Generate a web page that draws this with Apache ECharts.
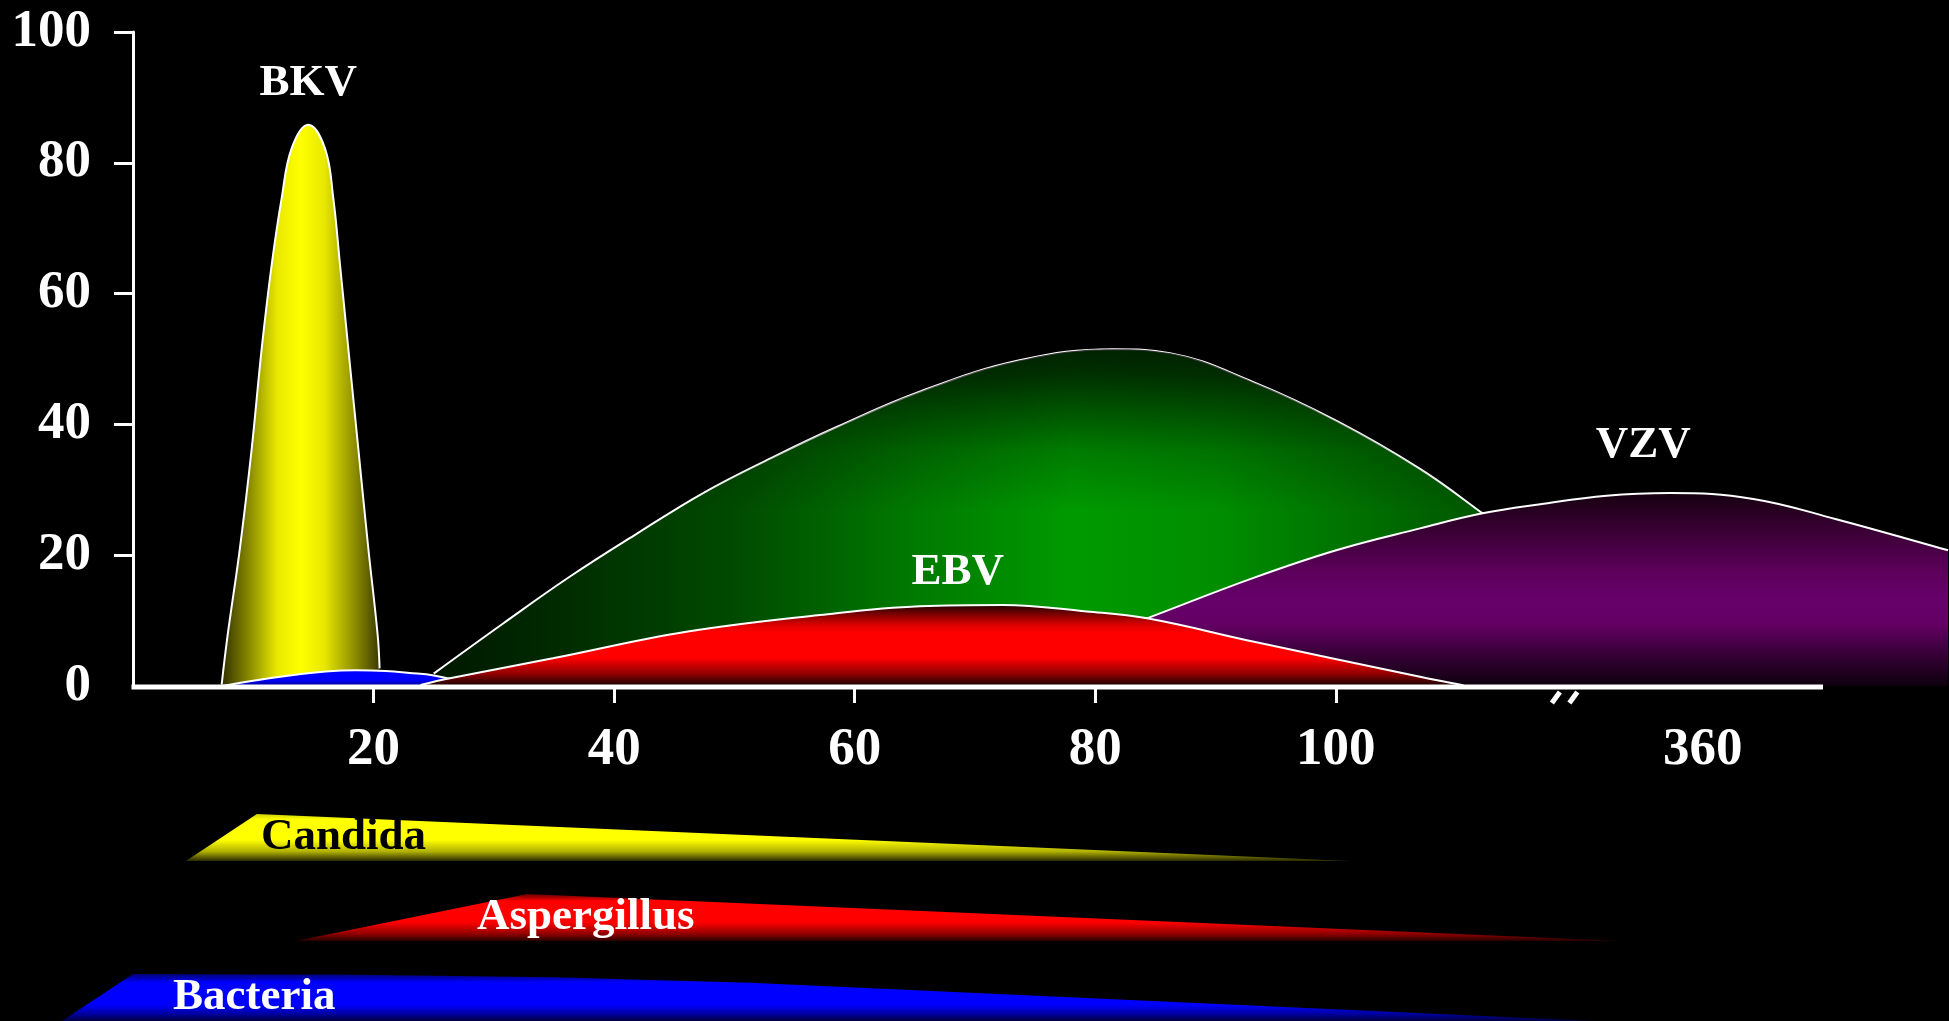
<!DOCTYPE html>
<html>
<head>
<meta charset="utf-8">
<style>
  html, body { margin: 0; padding: 0; background: #000; }
  #chart { width: 1949px; height: 1021px; }
</style>
<script src="https://cdn.jsdelivr.net/npm/echarts@6/dist/echarts.min.js"></script>
</head>
<body>
<div id="chart"></div>
<script>
// ---- axis values (days after transplant / relative frequency) ----
const xTickDays = [20, 40, 60, 80, 100];
const xLabelDays = [20, 40, 60, 80, 100, 360];
const yTickValues = [20, 40, 60, 80, 100];
const dayBreak = { start: 117, end: 350, gap: 3.5 };
const dayMax = 370;

// ---- infection curves: [day, relative frequency] ----
const bkv = [[7.37, 0.2], [7.87, 7.8], [8.89, 21.1], [9.87, 36.3], [10.7, 51.6], [11.53, 64.4],
             [12.36, 74.6], [13.19, 82.2], [14.57, 85.8], [15.96, 82.2], [16.65, 74.6], [17.21, 64.4],
             [17.9, 51.6], [18.73, 36.3], [19.56, 21.1], [20.34, 7.8], [20.5, 2.7]];
const earlyBacterial = [[7.4, 0], [10, 0.8], [13, 1.6], [16, 2.2], [18.5, 2.4], [21, 2.3],
                        [23, 2.0], [25, 1.6], [28.5, 0.1]];
const greenHump = [[25.0, 1.9], [30.8, 9.6], [36.3, 16.7], [41.9, 23.3], [47.4, 29.5], [53.0, 34.8],
                   [58.5, 39.6], [65.4, 45.0], [73.7, 49.8], [81.5, 51.5], [86.2, 50.9], [93.1, 46.5],
                   [100.1, 40.5], [107.0, 33.2], [112.2, 26.4], [117, 19.8]];
const ebv = [[23.9, 0.15], [26.35, 1.17], [34.9, 4.23], [46.0, 8.3], [57.1, 10.86], [65.4, 12.2],
             [72.3, 12.4], [79.3, 11.4], [84.3, 10.35], [93.1, 6.8], [107.0, 1.4], [110.6, 0.1]];
const vzv = [[68, 0], [76, 4.6], [84.3, 10.35], [93.1, 16.5], [100.1, 20.8], [107.0, 24.1],
             [112.2, 26.4], [117, 27.8], [352, 29.1], [357.3, 29.5], [364.2, 28.6], [371.1, 25.5],
             [379.7, 21.1], [380.4, 20.75]];

// ---- risk windows: [day, relative intensity 0..1] ----
const candida = [[4.4, 0], [10.3, 1], [101.2, 0]];
const aspergillus = [[13.5, 0], [32.75, 1], [353.2, 0]];
const bacteria = [[-5.9, 0], [0, 1], [17, 0.99], [35, 0.93], [51.3, 0.815], [350.9, 0]];

// ---- layout ----
const W = 1949;
const plotLeft = 133, plotRight = 126, plotTop = 32, plotH = 654;
const plotW = W - plotLeft - plotRight;
const visibleDays = dayMax - (dayBreak.end - dayBreak.start) + dayBreak.gap;
const pxPerDay = plotW / visibleDays;
const laneMin = -8;                               // lane axes start a little before day 0
const edgeMax = dayMax + plotRight / pxPerDay;    // day value at the right edge of the canvas
const laneTops = [814, 894, 974];
const laneH = 47;

const serif = "'Liberation Serif', 'Times New Roman', serif";

const lin = (x2, y2, stops) => ({
  type: 'linear', x: 0, y: 0, x2, y2,
  colorStops: stops.map(([offset, color]) => ({ offset, color }))
});

const peakOf = data => data.reduce((a, b) => (b[1] > a[1] ? b : a));

function dayAxis(gridIndex, visible, min, max) {
  return {
    type: 'value', gridIndex, min, max,
    breaks: [Object.assign({}, dayBreak)],
    breakArea: { show: false, itemStyle: { opacity: 0, borderWidth: 0 } },
    show: visible, z: 20,
    splitLine: { show: false },
    axisLine: { show: false },
    axisTick: { show: visible, length: 17, lineStyle: { color: '#fff', width: 3 }, customValues: xTickDays },
    axisLabel: {
      show: visible, margin: 38, color: '#fff', fontSize: 53, fontWeight: 'bold',
      fontFamily: serif, customValues: xLabelDays
    }
  };
}

const hiddenY = (gridIndex, max) => ({ type: 'value', gridIndex, min: 0, max, show: false });

const bigLabel = {
  show: true, color: '#fff', fontSize: 45, fontWeight: 'bold', fontFamily: serif,
  formatter: '{b}'
};

function hump(name, data, fill, z, axisIndex, label) {
  const s = {
    name, type: 'line', data, smooth: 0.4, symbol: 'none', clip: false, silent: true, z,
    xAxisIndex: axisIndex, yAxisIndex: axisIndex,
    lineStyle: { color: '#fff', width: 2 },
    areaStyle: { color: fill, opacity: 1 },
    emphasis: { disabled: true }
  };
  if (label) {
    s.markPoint = {
      symbol: 'circle', symbolSize: 0, silent: true, animation: false,
      data: [{ name, coord: peakOf(data) }],
      label: Object.assign({}, bigLabel, { position: 'top' }, label)
    };
  }
  return s;
}

function band(name, data, axisIndex, fill, textColor, labelOffset) {
  return {
    name, type: 'line', data, smooth: false, symbol: 'none', clip: false, silent: true, z: 2,
    xAxisIndex: axisIndex, yAxisIndex: axisIndex,
    lineStyle: { width: 0, opacity: 0 },
    areaStyle: { color: fill, opacity: 1 },
    emphasis: { disabled: true },
    markPoint: {
      symbol: 'circle', symbolSize: 0, silent: true, animation: false,
      data: [{ name, coord: [peakOf(data)[0], 0.5] }],
      label: Object.assign({}, bigLabel, {
        color: textColor, position: 'right', distance: 0, offset: labelOffset
      })
    }
  };
}

const chart = echarts.init(document.getElementById('chart'), null, { renderer: 'canvas' });

const laneLeft = plotLeft + laneMin * pxPerDay;
chart.setOption({
  backgroundColor: '#000',
  animation: false,
  grid: [
    { left: plotLeft, width: plotW, top: plotTop, height: plotH },
    { left: laneLeft, width: plotW - laneMin * pxPerDay, top: laneTops[0], height: laneH },
    { left: laneLeft, width: plotW - laneMin * pxPerDay, top: laneTops[1], height: laneH },
    { left: laneLeft, width: plotW - laneMin * pxPerDay, top: laneTops[2], height: laneH },
    { left: plotLeft, width: plotW + plotRight, top: plotTop, height: plotH }
  ],
  xAxis: [
    dayAxis(0, true, 0, dayMax),
    dayAxis(1, false, laneMin, dayMax),
    dayAxis(2, false, laneMin, dayMax),
    dayAxis(3, false, laneMin, dayMax),
    dayAxis(4, false, 0, edgeMax)
  ],
  yAxis: [
    {
      type: 'value', gridIndex: 0, min: 0, max: 100, interval: 20, z: 20,
      splitLine: { show: false },
      axisLine: { show: true, lineStyle: { color: '#fff', width: 3 } },
      axisTick: { show: true, length: 19, lineStyle: { color: '#fff', width: 3 }, customValues: yTickValues },
      axisLabel: { margin: 42, color: '#fff', fontSize: 53, fontWeight: 'bold', fontFamily: serif }
    },
    hiddenY(1, 1), hiddenY(2, 1), hiddenY(3, 1), hiddenY(4, 100)
  ],
  series: [
    hump('BKV', bkv, lin(1, 0, [[0, '#303000'], [0.18, '#8c8c00'], [0.35, '#e8e800'], [0.5, '#ffff00'],
                               [0.65, '#e8e800'], [0.85, '#8a8a00'], [1, '#3a3a00']]),
         2, 0, { distance: 19 }),
    hump('', greenHump, lin(1, 0, [[0, '#001800'], [0.096, '#002800'], [0.27, '#004a00'], [0.435, '#007a00'],
                                   [0.576, '#009a00'], [0.707, '#008e00'], [0.888, '#006400'], [1, '#004a00']]),
         3, 0),
    {
      type: 'line', data: greenHump, smooth: 0.4, symbol: 'none', clip: false, silent: true, z: 4,
      lineStyle: { width: 0, opacity: 0 },
      areaStyle: {
        opacity: 1,
        color: lin(0, 1, [[0, 'rgba(0,0,0,0.78)'], [0.08, 'rgba(0,0,0,0.68)'], [0.17, 'rgba(0,0,0,0.48)'],
                          [0.3, 'rgba(0,0,0,0.2)'], [0.48, 'rgba(0,0,0,0)'], [1, 'rgba(0,0,0,0)']])
      },
      emphasis: { disabled: true }
    },
    hump('VZV', vzv, lin(0, 1, [[0, '#160010'], [0.2, '#3a0035'], [0.4, '#5c005a'], [0.55, '#66006a'],
                               [0.68, '#640064'], [0.85, '#330033'], [1, '#0e000e']]),
         5, 4, { distance: 25, offset: [-27, 0] }),
    hump('', earlyBacterial, lin(0, 1, [[0, '#0000ff'], [0.6, '#0000ff'], [1, '#00008a']]), 6, 0),
    hump('EBV', ebv, lin(0, 1, [[0, '#200000'], [0.1, '#700000'], [0.25, '#e00000'], [0.35, '#ff0000'],
                               [0.65, '#ff0000'], [0.85, '#900000'], [1, '#150000']]),
         7, 0, { distance: 10, offset: [-45, 0] }),

    band('Candida', candida, 1,
         lin(0, 1, [[0, '#cfcf00'], [0.12, '#ffff00'], [0.55, '#ffff00'], [0.8, '#b0b000'], [1, '#2a2a00']]),
         '#000', [4, 0]),
    band('Aspergillus', aspergillus, 2,
         lin(0, 1, [[0, '#600000'], [0.15, '#ff0000'], [0.6, '#ff0000'], [0.85, '#900000'], [1, '#250000']]),
         '#fff', [-50, 0]),
    band('Bacteria', bacteria, 3,
         lin(0, 1, [[0, '#000070'], [0.18, '#0000ff'], [0.65, '#0000ff'], [0.85, '#0000a0'], [1, '#000040']]),
         '#fff', [40, 0])
  ]
});

// Continuous day axis line, plus "//" marks under it where the day scale is broken
function drawAxisDecor() {
  const px = v => chart.convertToPixel({ xAxisIndex: 0 }, v);
  const y0 = chart.convertToPixel({ yAxisIndex: 0 }, 0);
  const cx = (px(dayBreak.start) + px(dayBreak.end)) / 2;
  const slash = dx => ({
    type: 'line', silent: true, z: 30,
    shape: { x1: cx + dx - 4, y1: y0 + 17, x2: cx + dx + 4, y2: y0 + 6 },
    style: { stroke: '#fff', lineWidth: 5 }
  });
  chart.setOption({
    graphic: [
      {
        type: 'line', silent: true, z: 30,
        shape: { x1: px(0) - 1.5, y1: y0 + 1, x2: px(dayMax), y2: y0 + 1 },
        style: { stroke: '#fff', lineWidth: 5 }
      },
      slash(-5.5), slash(12)
    ]
  });
}
drawAxisDecor();
</script>
</body>
</html>
